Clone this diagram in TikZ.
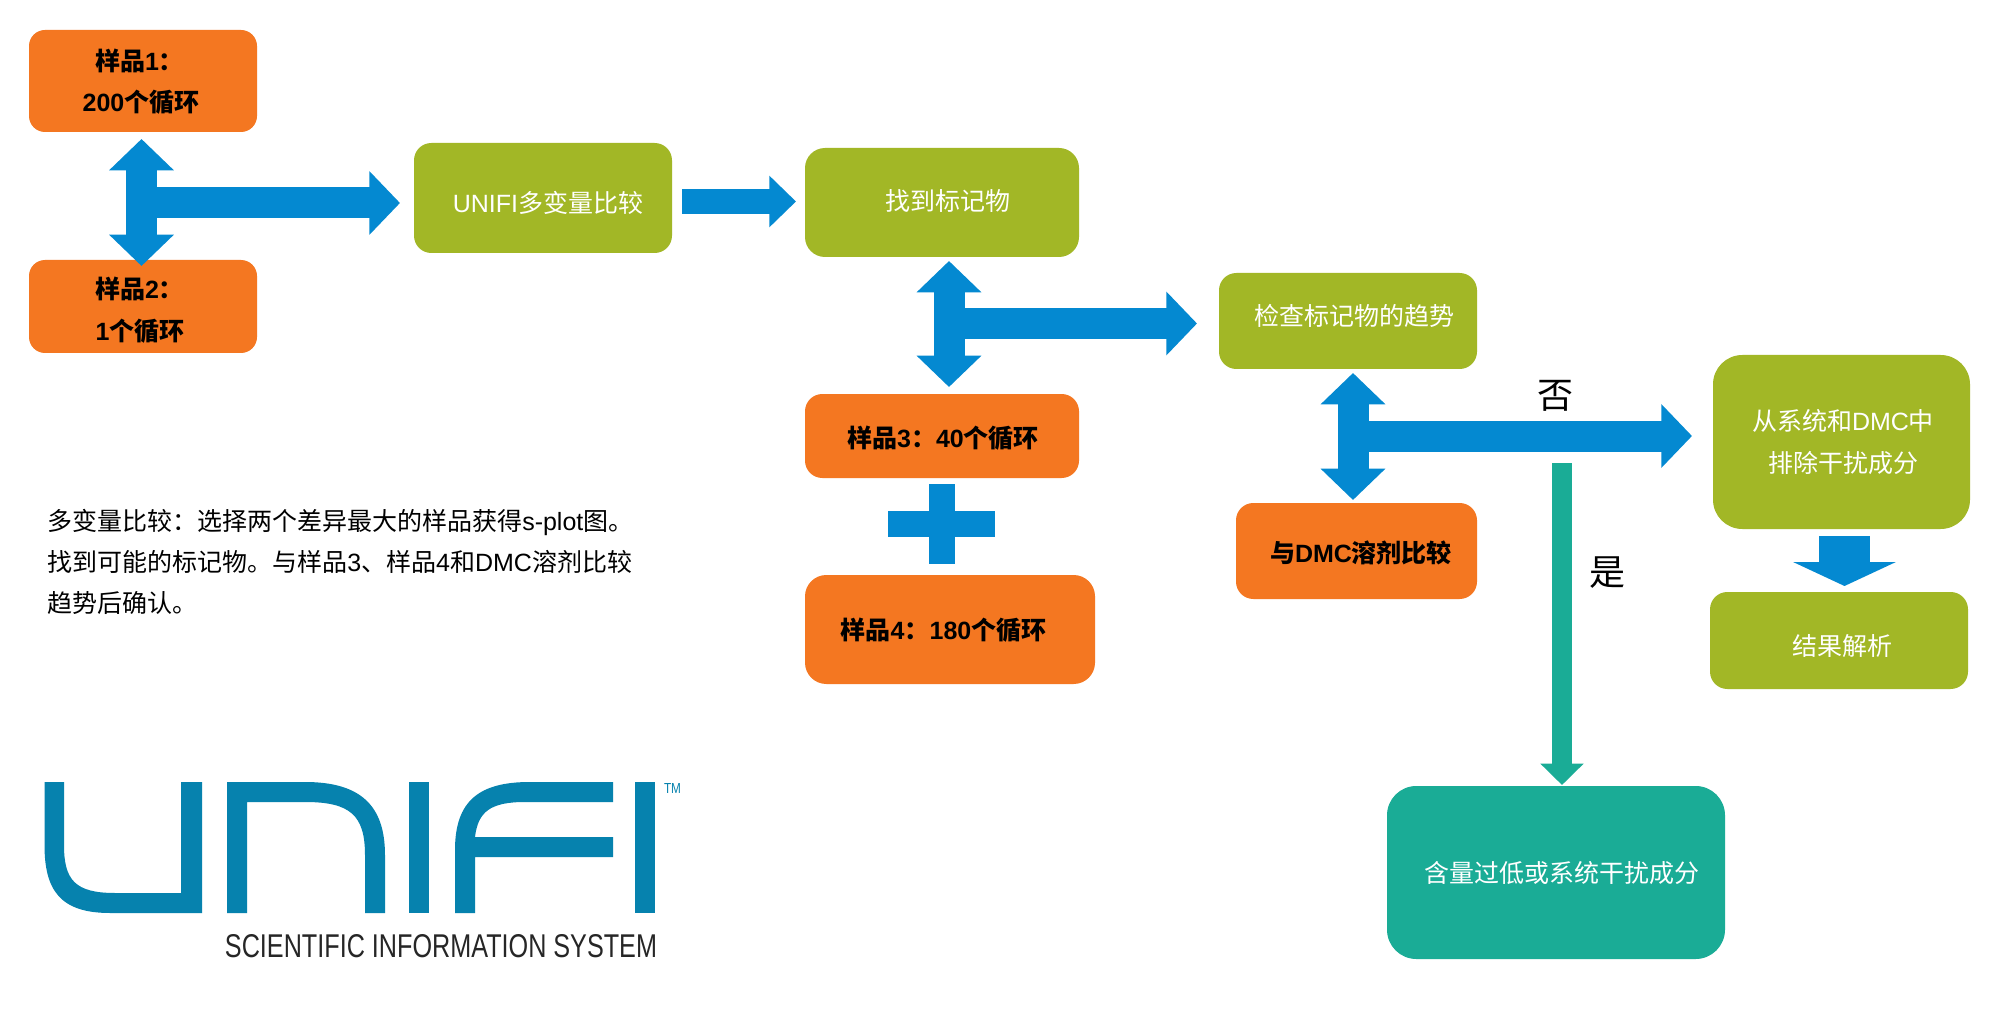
\documentclass[tikz,border=0pt]{standalone}
\usepackage{fontspec}
\usepackage{graphicx}
\usetikzlibrary{arrows.meta}
\setmainfont{Liberation Sans}
\newfontfamily\zhfont{Noto Sans CJK SC}
\newcommand\zh[1]{{\zhfont #1}}
\newdimen\pxl \pxl=0.75pt
% text line placed by offset of its centre x and its baseline from the node centre
\newcommand\TL[3]{\raisebox{-#2\pxl}[0pt][0pt]{\makebox[0pt]{\hspace*{#1\pxl}\hspace*{#1\pxl}#3}}}
\definecolor{cOrange}{HTML}{F47721}
\definecolor{cGreen}{HTML}{A2B726}
\definecolor{cTeal}{HTML}{1AAC96}
\definecolor{cBlue}{HTML}{0489D1}
\definecolor{cLogo}{HTML}{0682AE}
\tikzset{
  boxbase/.style={shape=rectangle,inner sep=0pt,outer sep=0pt,draw=none},
  orangebox/.style={boxbase,fill=cOrange,text=black,font=\fontsize{18.75pt}{20pt}\selectfont\bfseries},
  greenbox/.style={boxbase,fill=cGreen,text=white,font=\fontsize{18.75pt}{20pt}\selectfont},
  tealbox/.style={boxbase,fill=cTeal,text=white,font=\fontsize{18.75pt}{20pt}\selectfont},
  barTip/.tip={Triangle[length=23.5pt,width=47.25pt]},
  blockarrow/.style={draw=cBlue,line width=23.25pt,line cap=butt},
  vertblock/.style={blockarrow,barTip-barTip},
  horizblock/.style={blockarrow,-{Triangle[length=23pt,width=46.5pt]}},
  smallblock/.style={draw=cBlue,line width=18.75pt,-{Triangle[length=20pt,width=37.5pt]}},
  downblock/.style={draw=cBlue,line width=38.25pt,-{Triangle[length=18pt,width=76.5pt]}},
  tealarrow/.style={draw=cTeal,line width=15pt,-{Triangle[length=16pt,width=31.5pt]}},
  decision/.style={text=black,inner sep=0pt,font=\fontsize{27pt}{30pt}\selectfont\zhfont},
  logofill/.style={fill=cLogo,draw=none},
}
\newcommand\bx[7]{% name, x1,y1,x2,y2, style+radius, content
  \node[#6,minimum width={(#4-#2)*0.75pt},minimum height={(#5-#3)*0.75pt}] (#1) at ({(#2+#4)/2},{(#3+#5)/2}) {#7};}
\begin{document}
\begin{tikzpicture}[x=0.75pt,y=-0.75pt]
\useasboundingbox (0,0) rectangle (2000,1009);
\fill[white] (0,0) rectangle (2000,1009);
% boxes
\bx{s1}{29}{30}{257}{132}{orangebox,rounded corners=12pt}{\TL{-3.5}{-10}{\zh{样品}1\zh{：}}\TL{-2}{31}{200\zh{个循环}}}
\bx{s2}{29}{260}{257}{353}{orangebox,rounded corners=12pt}{\TL{-3.5}{-7.5}{\zh{样品}2\zh{：}}\TL{-3}{34.5}{1\zh{个循环}}}
\bx{uni}{414}{143}{672}{253}{greenbox,rounded corners=13pt}{\TL{5}{14.5}{UNIFI\zh{多变量比较}}}
\bx{found}{805}{148}{1079}{257}{greenbox,rounded corners=15pt}{\TL{6}{8.5}{\zh{找到标记物}}}
\bx{s3}{805}{394}{1079}{478}{orangebox,rounded corners=13pt}{\TL{1}{11}{\zh{样品}3\zh{：}40\zh{个循环}}}
\bx{s4}{805}{575}{1095}{684}{orangebox,rounded corners=16pt}{\TL{-6.5}{9.5}{\zh{样品}4\zh{：}180\zh{个循环}}}
\bx{check}{1219}{273}{1477}{369}{greenbox,rounded corners=13pt}{\TL{6.5}{4.5}{\zh{检查标记物的趋势}}}
\bx{dmc}{1236}{503}{1477}{599}{orangebox,rounded corners=13pt}{\TL{4.5}{11}{\zh{与}DMC\zh{溶剂比较}}}
\bx{rem}{1713}{355}{1970}{529}{greenbox,rounded corners=22pt}{\TL{1.5}{-11.5}{\zh{从系统和}DMC\zh{中}}\TL{1.5}{30.5}{\zh{排除干扰成分}}}
\bx{res}{1710}{592}{1968}{689}{greenbox,rounded corners=13pt}{\TL{3}{15}{\zh{结果解析}}}
\bx{low}{1387}{786}{1725}{959}{tealbox,rounded corners=22pt}{\TL{5.5}{10}{\zh{含量过低或系统干扰成分}}}
% connector ends
\coordinate (j1t) at (141.5,139); \coordinate (j1b) at (141.5,266);
\coordinate (j1m) at (141.5,203); \coordinate (j1e) at (400,203);
\coordinate (a2s) at (682,201.5); \coordinate (a2e) at (796,201.5);
\coordinate (j2t) at (949,261);   \coordinate (j2b) at (949,387);
\coordinate (j2m) at (949,323.5); \coordinate (j2e) at (1197,323.5);
\coordinate (j3t) at (1353,373);  \coordinate (j3b) at (1353,500);
\coordinate (j3m) at (1353,436);  \coordinate (j3e) at (1692,436);
\coordinate (ds) at (1844.5,536); \coordinate (de) at (1844.5,586);
\coordinate (ts) at (1562,463);   \coordinate (te) at (1562,785);
% block arrows
\draw[vertblock] (j1t) -- (j1b);
\draw[horizblock] (j1m) -- (j1e);
\draw[smallblock] (a2s) -- (a2e);
\draw[vertblock] (j2t) -- (j2b);
\draw[horizblock] (j2m) -- (j2e);
\draw[vertblock] (j3t) -- (j3b);
\draw[horizblock] (j3m) -- (j3e);
\draw[downblock] (ds) -- (de);
\draw[tealarrow] (ts) -- (te);
% plus
\fill[cBlue] (929,484) rectangle (955,564);
\fill[cBlue] (888,511) rectangle (995,537);
% yes/no
\node[decision] (no) at (1555,396) {否};
\node[decision] (yes) at (1607,573) {是};
% note
\node[anchor=north west,inner sep=0pt,align=left,text=black,font=\fontsize{18.75pt}{30.75pt}\selectfont] (note) at (47,509) {%
\zh{多变量比较：选择两个差异最大的样品获得}s-plot\zh{图。}\\
\zh{找到可能的标记物。与样品}3\zh{、样品}4\zh{和}DMC\zh{溶剂比较}\\
\zh{趋势后确认。}};
% logo
\fill[logofill] (44.5,782) -- (64,782) -- (64,845) .. controls (64,880) and (75,893) .. (115,893) -- (181,893) -- (181,782) -- (202,782) -- (202,913) -- (110,913) .. controls (60,913) and (44.5,890) .. (44.5,845) -- cycle;
\fill[logofill] (227,913) -- (227,782) -- (305,782) .. controls (360,782) and (385,805) .. (385,855) -- (385,913) -- (365,913) -- (365,855) .. controls (365,815) and (350,802) .. (305,802) -- (247,802) -- (247,913) -- cycle;
\fill[logofill] (409,782) rectangle (429,913);
\fill[logofill] (455,913) -- (455,850) .. controls (455,800) and (480,782) .. (530,782) -- (613,782) -- (613,802) -- (525,802) .. controls (490,802) and (478,812) .. (475,837) -- (613,837) -- (613,857) -- (475,857) -- (475,913) -- cycle;
\fill[logofill] (634.5,782) rectangle (655,913);
\node[inner sep=0pt,text=cLogo] (tm) at (672.5,788) {\resizebox{12.75pt}{7.5pt}{TM}};
\node[inner sep=0pt,text=black!85] (sis) at (441,946.5) {\resizebox{324pt}{17.25pt}{SCIENTIFIC INFORMATION SYSTEM}};
\end{tikzpicture}
\end{document}
